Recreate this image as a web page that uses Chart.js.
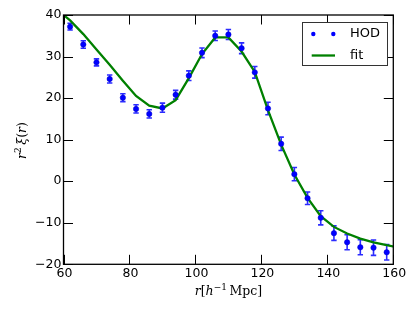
<!DOCTYPE html>
<html>
<head>
<meta charset="utf-8">
<script src="https://cdn.jsdelivr.net/npm/chart.js@4"></script>
<style>
  html, body { margin: 0; padding: 0; background: #fff; }
  canvas { display: block; }
</style>
</head>
<body>
<canvas id="xiChart" width="415" height="312"></canvas>
<script>
/* Data */
const rValues = [62, 66, 70, 74, 78, 82, 86, 90, 94, 98, 102, 106, 110, 114, 118, 122, 126, 130, 134, 138, 142, 146, 150, 154, 158];
const hodValues = [37.2, 32.9, 28.6, 24.6, 20.1, 17.4, 16.2, 17.7, 20.8, 25.4, 30.9, 35.0, 35.3, 32.0, 26.2, 17.5, 9.0, 1.7, -4.1, -8.8, -12.5, -14.7, -15.9, -16.0, -17.1];
const hodErrors = [0.8, 0.9, 0.85, 0.95, 0.95, 1.0, 1.0, 1.1, 1.05, 1.15, 1.15, 1.15, 1.2, 1.3, 1.4, 1.5, 1.6, 1.6, 1.5, 1.7, 1.75, 1.8, 1.8, 1.85, 1.85];
const fitR = [58, 62, 66, 70, 74, 78, 82, 86, 90, 94, 98, 102, 106, 110, 114, 118, 122, 126, 130, 134, 138, 142, 146, 150, 154, 158, 162];
const fitValues = [41.3, 38.7, 35.4, 31.7, 28.0, 24.2, 20.5, 18.2, 17.5, 19.5, 24.8, 30.6, 34.6, 34.6, 31.2, 26.3, 17.1, 8.8, 1.6, -4.0, -8.4, -11.0, -12.6, -13.8, -14.7, -15.4, -16.0];
const xTicks = [60, 80, 100, 120, 140, 160];
const yTicks = [-20, -10, 0, 10, 20, 30, 40];

const tickFont = '12.5px "DejaVu Sans"';
const mathFont = 'italic 12.5px "DejaVu Serif"';
const romanFont = '12.5px "DejaVu Serif"';

/* Error bars, drawn under the markers */
const errorBars = {
  id: 'errorBars',
  beforeDatasetsDraw(chart) {
    const ctx = chart.ctx;
    const x = chart.scales.x, y = chart.scales.y;
    ctx.save();
    ctx.strokeStyle = 'rgba(20,20,255,0.9)';
    ctx.lineWidth = 1.6;
    rValues.forEach(function(r, i) {
      const px = x.getPixelForValue(r);
      const top = y.getPixelForValue(hodValues[i] + hodErrors[i]);
      const bot = y.getPixelForValue(hodValues[i] - hodErrors[i]);
      ctx.beginPath();
      ctx.moveTo(px, top); ctx.lineTo(px, bot);
      ctx.moveTo(px - 2.7, top); ctx.lineTo(px + 2.7, top);
      ctx.moveTo(px - 2.7, bot); ctx.lineTo(px + 2.7, bot);
      ctx.stroke();
    });
    ctx.restore();
  }
};

/* Frame, inward ticks, labels, titles and legend (matplotlib look) */
const axesDecor = {
  id: 'axesDecor',
  afterDraw(chart) {
    const ctx = chart.ctx;
    const a = chart.chartArea;
    const x = chart.scales.x, y = chart.scales.y;
    const tl = 9.5;
    ctx.save();
    ctx.strokeStyle = '#000';
    ctx.lineWidth = 1.3;
    ctx.strokeRect(a.left, a.top, a.right - a.left, a.bottom - a.top);

    ctx.lineWidth = 1;
    ctx.beginPath();
    xTicks.forEach(function(t) {
      const px = Math.round(x.getPixelForValue(t)) + 0.5;
      ctx.moveTo(px, a.bottom); ctx.lineTo(px, a.bottom - tl);
      ctx.moveTo(px, a.top); ctx.lineTo(px, a.top + tl);
    });
    yTicks.forEach(function(t) {
      const py = Math.round(y.getPixelForValue(t)) + 0.5;
      ctx.moveTo(a.left, py); ctx.lineTo(a.left + tl, py);
      ctx.moveTo(a.right, py); ctx.lineTo(a.right - tl, py);
    });
    ctx.stroke();

    ctx.fillStyle = '#000';
    ctx.font = tickFont;
    ctx.textAlign = 'center';
    ctx.textBaseline = 'alphabetic';
    xTicks.forEach(function(t) {
      ctx.fillText(String(t), x.getPixelForValue(t) + 1, a.bottom + 13);
    });
    ctx.textAlign = 'right';
    ctx.textBaseline = 'middle';
    yTicks.forEach(function(t) {
      ctx.fillText(String(t).replace('-', '\u2212'), a.left - 2, y.getPixelForValue(t));
    });

    // x title: r[h^-1 Mpc]
    const parts = [
      {t: 'r', f: mathFont, dy: 0},
      {t: '[', f: romanFont, dy: 0},
      {t: 'h', f: mathFont, dy: 0},
      {t: '\u22121', f: '9px "DejaVu Serif"', dy: -5},
      {t: '\u2009Mpc]', f: romanFont, dy: 0}
    ];
    let w = 0;
    parts.forEach(function(p) { ctx.font = p.f; w += ctx.measureText(p.t).width; });
    let cx = (a.left + a.right) / 2 - w / 2;
    ctx.textAlign = 'left';
    ctx.textBaseline = 'alphabetic';
    parts.forEach(function(p) {
      ctx.font = p.f;
      ctx.fillText(p.t, cx, 295 + p.dy);
      cx += ctx.measureText(p.t).width;
    });

    // y title: r^2 xi(r)
    const yparts = [
      {t: 'r', f: mathFont, dy: 0},
      {t: '2', f: '9px "DejaVu Serif"', dy: -5},
      {t: '\u2009', f: romanFont, dy: 0},
      {t: '\u03be', f: mathFont, dy: 0},
      {t: '(', f: romanFont, dy: 0},
      {t: 'r', f: mathFont, dy: 0},
      {t: ')', f: romanFont, dy: 0}
    ];
    w = 0;
    yparts.forEach(function(p) { ctx.font = p.f; w += ctx.measureText(p.t).width; });
    ctx.translate(26, 140.5);
    ctx.rotate(-Math.PI / 2);
    cx = -w / 2;
    yparts.forEach(function(p) {
      ctx.font = p.f;
      ctx.fillText(p.t, cx, 0 + p.dy);
      cx += ctx.measureText(p.t).width;
    });
    ctx.setTransform(1, 0, 0, 1, 0, 0);

    // legend
    ctx.fillStyle = '#fff';
    ctx.fillRect(302.5, 22.5, 85, 43);
    ctx.strokeStyle = '#333';
    ctx.lineWidth = 1;
    ctx.strokeRect(302.5, 22.5, 85, 43);
    ctx.fillStyle = '#0000ff';
    [313.3, 333.3].forEach(function(mx) {
      ctx.beginPath();
      ctx.arc(mx, 34, 2.2, 0, Math.PI * 2);
      ctx.fill();
    });
    ctx.strokeStyle = '#008000';
    ctx.lineWidth = 2.3;
    ctx.beginPath();
    ctx.moveTo(311.7, 55.5); ctx.lineTo(335, 55.5);
    ctx.stroke();
    ctx.fillStyle = '#000';
    ctx.font = '13px "DejaVu Sans"';
    ctx.textAlign = 'left';
    ctx.textBaseline = 'middle';
    ctx.fillText('HOD', 350, 34);
    ctx.fillText('fit', 350, 55.5);
    ctx.restore();
  }
};

/* Config */
const config = {
  type: 'line',
  data: {
    datasets: [
      {
        label: 'fit',
        data: fitR.map(function(r, i) { return {x: r, y: fitValues[i]}; }),
        borderColor: '#008000',
        borderWidth: 2.3,
        pointRadius: 0,
        tension: 0,
        fill: false,
        order: 2
      },
      {
        label: 'HOD',
        data: rValues.map(function(r, i) { return {x: r, y: hodValues[i]}; }),
        showLine: false,
        pointRadius: 2.7,
        pointBackgroundColor: '#0000ff',
        pointBorderColor: '#0000cc',
        pointBorderWidth: 0.5,
        order: 1
      }
    ]
  },
  options: {
    responsive: false,
    animation: false,
    layout: {padding: {left: 63.5, right: 21.7, top: 15, bottom: 47.7}},
    plugins: {
      legend: {display: false},
      tooltip: {enabled: false}
    },
    scales: {
      x: {type: 'linear', min: 60, max: 160, display: false},
      y: {type: 'linear', min: -20, max: 40, display: false}
    }
  },
  plugins: [errorBars, axesDecor]
};

/* Render chart */
var xiChart = new Chart(document.getElementById('xiChart'), config);
</script>
</body>
</html>
